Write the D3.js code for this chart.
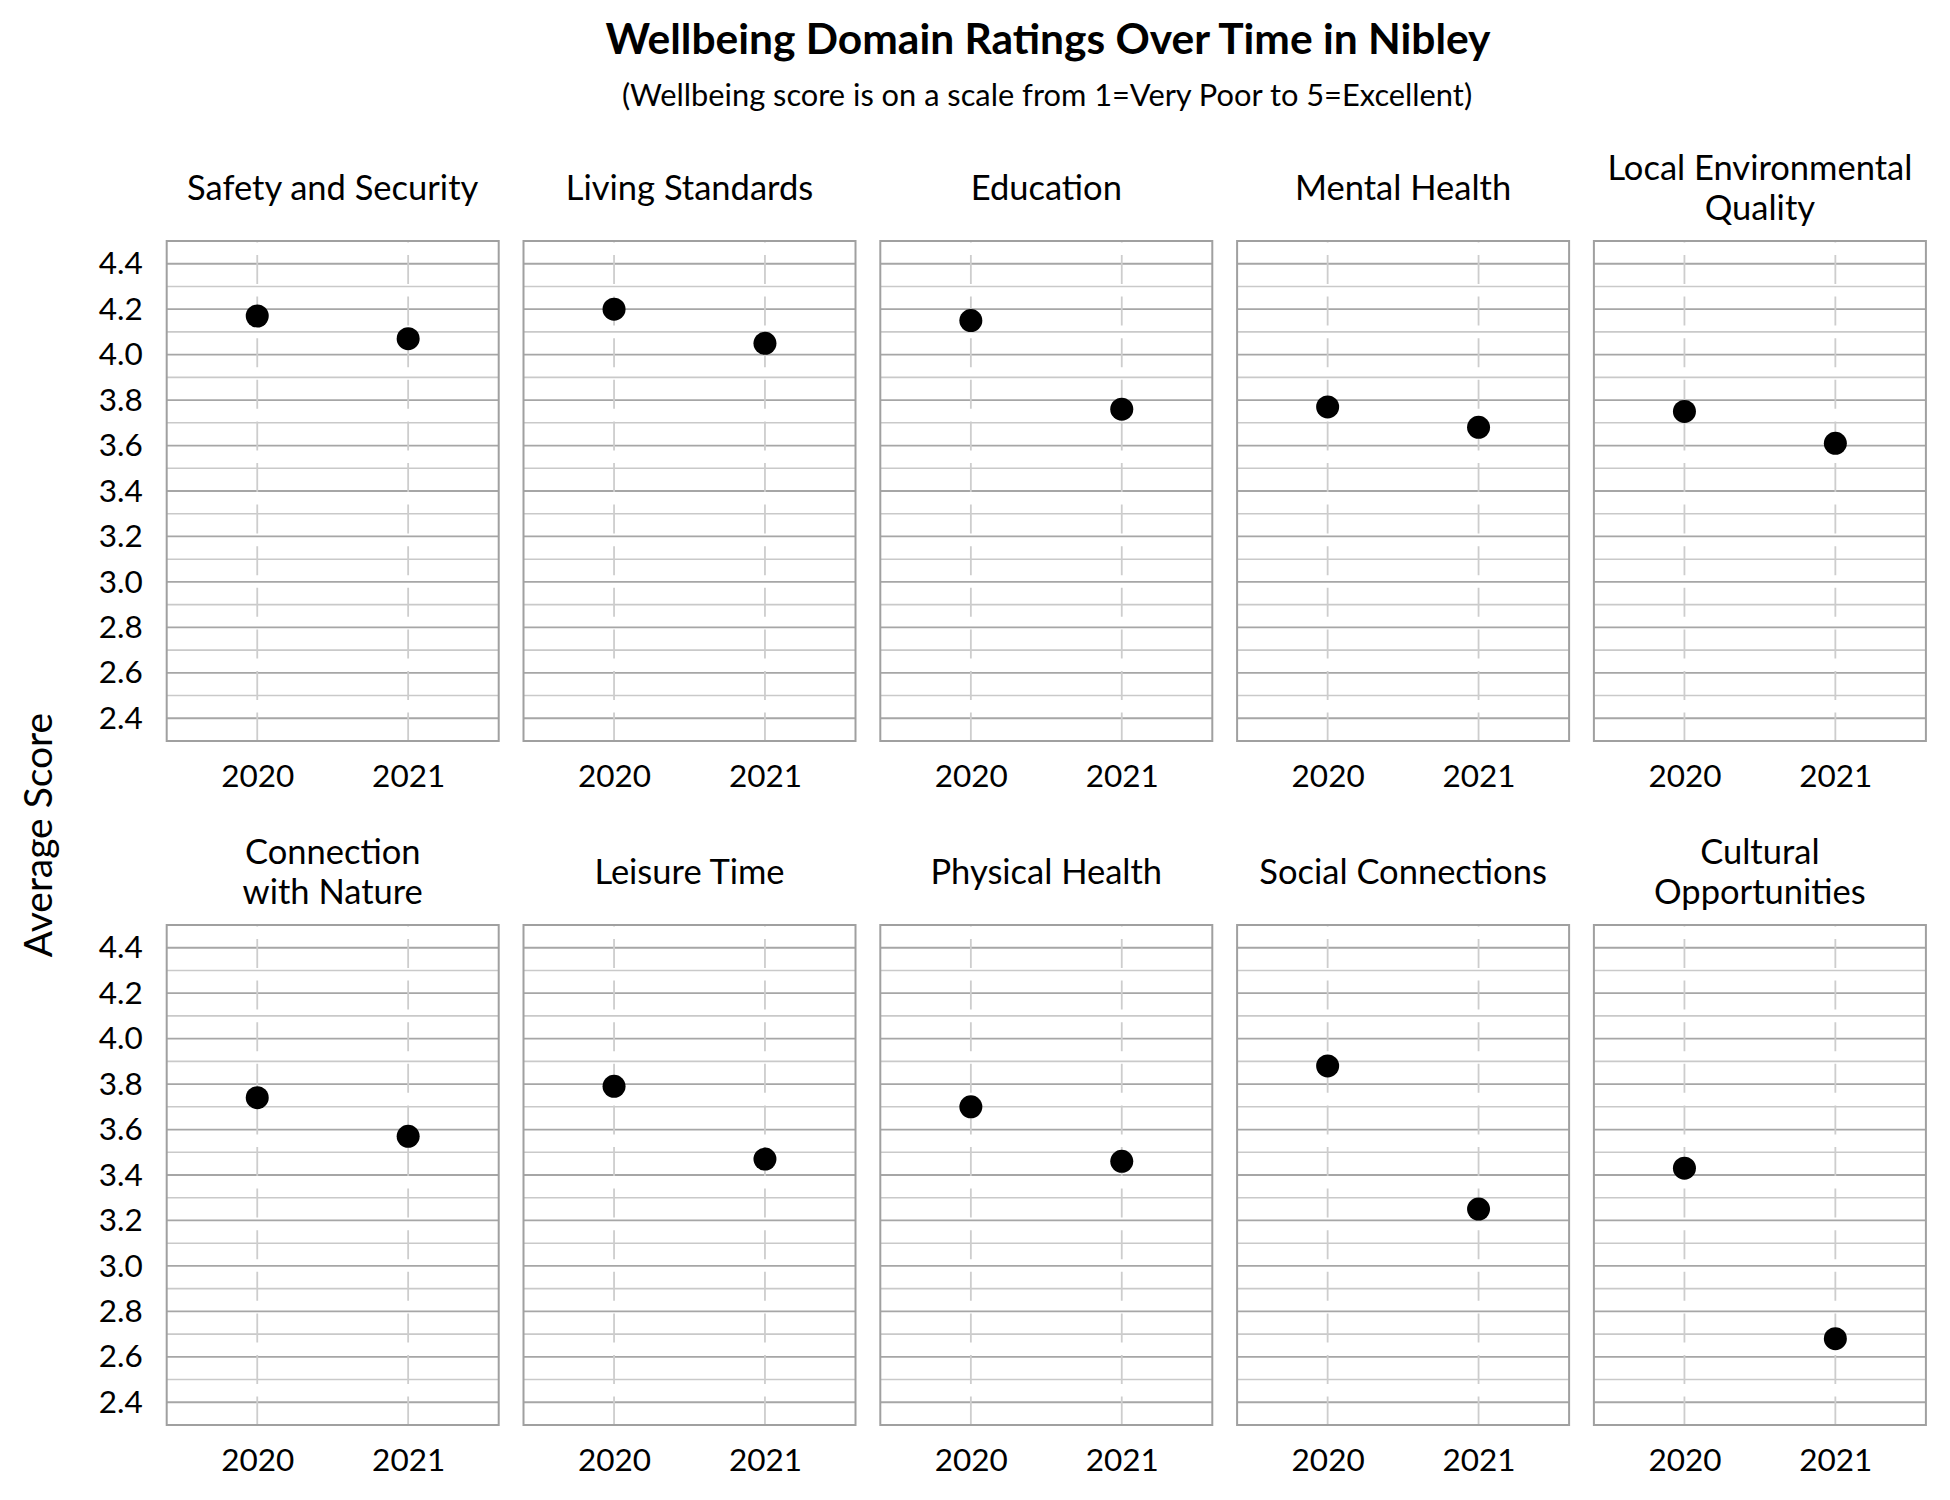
<!DOCTYPE html>
<html>
<head>
<meta charset="utf-8">
<script src="https://cdn.jsdelivr.net/npm/d3@7"></script>
<style>
  html, body { margin: 0; padding: 0; background: #ffffff; }
  svg { display: block; }
</style>
</head>
<body>
<script>
// ---------------- data ----------------
const domains = [
  "Safety and Security", "Living Standards", "Education", "Mental Health", "Local Environmental\nQuality",
  "Connection\nwith Nature", "Leisure Time", "Physical Health", "Social Connections", "Cultural\nOpportunities"
];
const years = ["2020", "2021"];
const scores2020 = [4.17, 4.20, 4.15, 3.77, 3.75, 3.74, 3.79, 3.70, 3.88, 3.43];
const scores2021 = [4.07, 4.05, 3.76, 3.68, 3.61, 3.57, 3.47, 3.46, 3.25, 2.68];
const yTicks = [2.4, 2.6, 2.8, 3.0, 3.2, 3.4, 3.6, 3.8, 4.0, 4.2, 4.4];
const yMinorTicks = [2.5, 2.7, 2.9, 3.1, 3.3, 3.5, 3.7, 3.9, 4.1, 4.3];
const titleText = "Wellbeing Domain Ratings Over Time in Nibley";
const subtitleText = "(Wellbeing score is on a scale from 1=Very Poor to 5=Excellent)";
const yLabelText = "Average Score";

// ---------------- layout ----------------
const W = 1950, H = 1500;
const FONT = "Lato, 'Open Sans', sans-serif";
const panelW = 332, panelH = 500;
const left0 = 166.7, step = 356.8;
const rowTops = [241, 925];
const nCols = 5;

const svg = d3.select("body").append("svg")
  .attr("width", W).attr("height", H)
  .attr("viewBox", `0 0 ${W} ${H}`);

svg.append("text")
  .attr("x", 1048).attr("y", 54)
  .attr("text-anchor", "middle")
  .attr("font-family", FONT).attr("font-weight", "bold")
  .attr("font-size", 42.5).attr("fill", "#000")
  .text(titleText);

svg.append("text")
  .attr("x", 1047).attr("y", 106)
  .attr("text-anchor", "middle")
  .attr("font-family", FONT)
  .attr("font-size", 30.8).attr("fill", "#000")
  .text(subtitleText);

svg.append("text")
  .attr("transform", `translate(51.5, ${(rowTops[0] + rowTops[1] + panelH) / 2 + 2}) rotate(-90)`)
  .attr("text-anchor", "middle")
  .attr("font-family", FONT)
  .attr("font-size", 39).attr("fill", "#000")
  .text(yLabelText);

const x = d3.scalePoint().domain(years).range([0, panelW]).padding(0.6);

const data = domains.map((d, i) => ({
  name: d,
  values: [
    { year: years[0], v: scores2020[i] },
    { year: years[1], v: scores2021[i] }
  ]
}));

data.forEach((p, i) => {
  const col = i % nCols, row = Math.floor(i / nCols);
  const px = left0 + col * step, py = rowTops[row];
  const y = d3.scaleLinear().domain([2.3, 4.5]).range([panelH, 0]);
  const g = svg.append("g").attr("transform", `translate(${px},${py})`);

  // minor gridlines
  g.append("g").selectAll("line").data(yMinorTicks).join("line")
    .attr("x1", 0).attr("x2", panelW)
    .attr("y1", d => y(d)).attr("y2", d => y(d))
    .attr("stroke", "#c9c9c9").attr("stroke-width", 1.6);

  // major gridlines
  g.append("g").selectAll("line").data(yTicks).join("line")
    .attr("x1", 0).attr("x2", panelW)
    .attr("y1", d => y(d)).attr("y2", d => y(d))
    .attr("stroke", "#a6a6a6").attr("stroke-width", 1.8);

  // vertical dashed gridlines
  g.append("g").selectAll("line").data(years).join("line")
    .attr("x1", d => x(d)).attr("x2", d => x(d))
    .attr("y1", 0).attr("y2", panelH)
    .attr("stroke", "#cdcdcd").attr("stroke-width", 1.8)
    .attr("stroke-dasharray", "29,12.6")
    .attr("stroke-dashoffset", 27.6);

  // border
  g.append("rect")
    .attr("x", 0).attr("y", 0).attr("width", panelW).attr("height", panelH)
    .attr("fill", "none").attr("stroke", "#a0a0a0").attr("stroke-width", 2);

  // x axis labels
  const xa = g.append("g").attr("transform", `translate(0,${panelH})`)
    .call(d3.axisBottom(x).tickSize(0).tickPadding(0));
  xa.select(".domain").remove();
  xa.selectAll("text")
    .attr("dy", null).attr("y", 46)
    .attr("font-family", FONT).attr("font-size", 31.5).attr("fill", "#000");

  // y axis labels (first column only)
  if (col === 0) {
    const ya = g.append("g")
      .call(d3.axisLeft(y).tickValues(yTicks).tickFormat(d3.format(".1f")).tickSize(0).tickPadding(24));
    ya.select(".domain").remove();
    ya.selectAll("text")
      .attr("font-family", FONT).attr("font-size", 31.5).attr("fill", "#000");
  }

  // panel title
  const lines = p.name.split("\n");
  const t = g.append("text")
    .attr("text-anchor", "middle")
    .attr("font-family", FONT).attr("font-size", 34.5).attr("fill", "#000");
  const base = -41;
  lines.forEach((ln, k) => {
    t.append("tspan")
      .attr("x", panelW / 2)
      .attr("y", lines.length === 1 ? base : base - 20 + k * 40)
      .text(ln);
  });

  // points
  g.append("g").selectAll("circle").data(p.values).join("circle")
    .attr("cx", d => x(d.year)).attr("cy", d => y(d.v))
    .attr("r", 11.5).attr("fill", "#000");
});
</script>
</body>
</html>
